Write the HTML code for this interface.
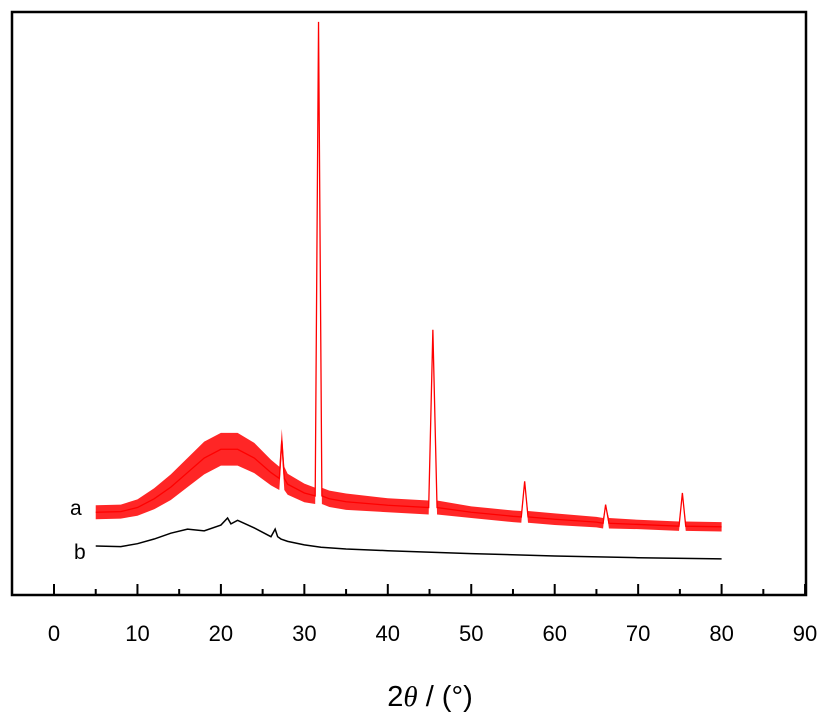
<!DOCTYPE html>
<html><head><meta charset="utf-8"><style>
html,body{margin:0;padding:0;background:#fff;}
svg{display:block;font-family:"Liberation Sans",Arial,sans-serif;}
</style></head><body>
<svg id="chart" width="827" height="720" viewBox="0 0 827 720">
<rect x="12" y="12" width="794" height="583" fill="none" stroke="#000" stroke-width="2.5"/>
<g id="ticks"></g>
<g id="series"></g>
<text x="70" y="515" font-size="21">a</text>
<text x="74" y="559" font-size="21">b</text>
<text x="430" y="706" font-size="29" text-anchor="middle">2<tspan font-style="italic" font-family="Liberation Serif,serif">θ</tspan> / (°)</text>
</svg>
<script>
const xTicks=[0,10,20,30,40,50,60,70,80,90];
const aX=[5,8,10,12,14,16,18,20,22,24,26,27,27.3,27.6,28,30,31.3,31.7,32.1,33,35,40,44.9,45.4,45.9,50,55,56,56.4,56.8,60,65,65.8,66.1,66.5,70,74.9,75.3,75.7,80];
const aY=[14.2,14.3,15,16.5,18.5,21,23.5,25,25,23.5,21,20,26.5,20,19,17.5,17,98.3,17,16.5,16,15.4,15,45.5,15,14.2,13.5,13.4,19.5,13.4,13,12.5,12.3,15.5,12.3,12.1,11.8,17.5,11.8,11.7];
const aNoise=[1.2,1.2,1.4,1.8,2.2,2.5,2.8,2.8,2.8,2.6,2.2,2,2,2,1.8,1.6,1.4,0,1.4,1.4,1.4,1.2,1.2,0,1.2,1,1,1,0,1,1,0.9,0.9,0,0.9,0.8,0.8,0,0.8,0.8];
const bX=[5,8,10,12,14,16,18,20,20.8,21.2,22,24,26,26.5,26.8,27.2,28,30,32,35,40,50,60,70,80];
const bY=[8.4,8.3,8.8,9.6,10.6,11.3,11,12,13.2,12.2,12.8,11.5,10,11.3,10,9.6,9.2,8.6,8.2,7.9,7.6,7.1,6.7,6.4,6.2];
const sx=v=>54+v*8.345, sy=v=>595-v*5.83;
const NS='http://www.w3.org/2000/svg';
const tg=document.getElementById('ticks');
xTicks.forEach(t=>{
 const l=document.createElementNS(NS,'line');
 
 
 l.setAttribute('x1',sx(t));l.setAttribute('x2',sx(t));l.setAttribute('y1',595);l.setAttribute('y2',584);
 l.setAttribute('stroke','#000');l.setAttribute('stroke-width','2');tg.appendChild(l);
 if(t<90){const m=document.createElementNS(NS,'line');
 
 
 m.setAttribute('x1',sx(t+5));m.setAttribute('x2',sx(t+5));m.setAttribute('y1',595);m.setAttribute('y2',589);
 m.setAttribute('stroke','#000');m.setAttribute('stroke-width','2');tg.appendChild(m);}
 const tx=document.createElementNS(NS,'text');
 
 
 tx.setAttribute('x',sx(t));tx.setAttribute('y',641);tx.setAttribute('font-size','22');tx.setAttribute('text-anchor','middle');
 tx.textContent=t;tg.appendChild(tx);
});
const sg=document.getElementById('series');
let up=aX.map((x,i)=>sx(x)+','+sy(aY[i]+aNoise[i]));
let dn=aX.map((x,i)=>sx(x)+','+sy(aY[i]-aNoise[i])).reverse();
const band=document.createElementNS(NS,'polygon');


band.setAttribute('points',up.concat(dn).join(' '));band.setAttribute('fill','#f00');band.setAttribute('opacity','0.85');
sg.appendChild(band);
function line(X,Y,c,n,w){const p=document.createElementNS(NS,'polyline');
 
 
 p.setAttribute('points',X.map((x,i)=>sx(x)+','+sy(Y[i])).join(' '));
 p.setAttribute('fill','none');p.setAttribute('stroke',c);p.setAttribute('stroke-width',w);sg.appendChild(p);}
line(aX,aY,'#f00','series-a',1.3);
line(bX,bY,'#000','series-b',1.5);
</script>
</body></html>
